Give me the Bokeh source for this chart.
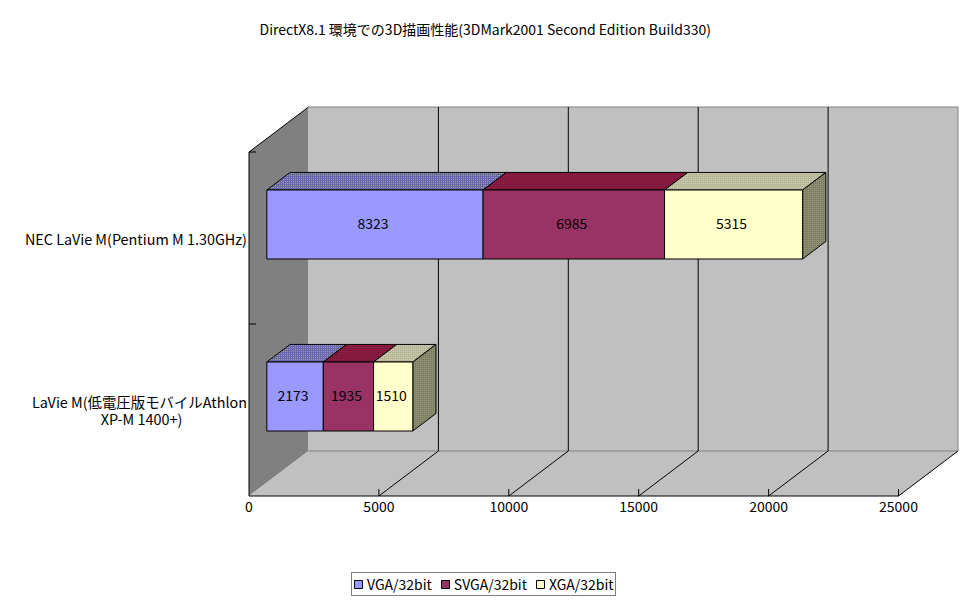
from bokeh.plotting import figure
from bokeh.embed import file_html
from bokeh.resources import INLINE
from bokeh.models import FixedTicker, Legend, LegendItem, Range1d
from bokeh.core.properties import value

title = "DirectX8.1 環境での3D描画性能(3DMark2001 Second Edition Build330)"
categories = ["LaVie M(低電圧版モバイルAthlon\nXP-M 1400+)\u3000\u3000\u3000\u3000\u2002", "NEC LaVie M(Pentium M 1.30GHz)"]
series = ["VGA/32bit", "SVGA/32bit", "XGA/32bit"]
vga = [2173, 8323]
svga = [1935, 6985]
xga = [1510, 5315]
x_ticks = [0, 5000, 10000, 15000, 20000, 25000]
front_colors = ["#9999FF", "#993366", "#FFFFCC"]
top_colors = ["#6868A8", "#7A1A40", "#B8B898"]
dot_colors = ["#B0B090", "#B02030", "#D8D8C0"]
side_color = "#8C8C70"

PX_PER_UNIT = 649.5 / 25000
DX = 59.5 / PX_PER_UNIT
CAT_PX = 172.0
DY = 45 / CAT_PX
FONT = "Noto Sans CJK JP"
W, H, TOP = 964, 600, 54
X0 = -248.5 / PX_PER_UNIT
Y0 = -(H - 495.5) / CAT_PX

p = figure(width=W, height=H, output_backend="svg", toolbar_location=None,
           x_range=Range1d(X0, X0 + W / PX_PER_UNIT), y_range=Range1d(Y0, Y0 + (H - TOP) / CAT_PX),
           frame_width=W, frame_height=H - TOP, min_border=0, outline_line_color=None,
           background_fill_color="white")
p.xgrid.visible = False
p.ygrid.visible = False

p.title.text = title
p.title.align = "left"
p.title.offset = 259
p.title.standoff = 32
p.title.text_font = FONT
p.title.text_font_size = "14px"
p.title.text_font_style = "normal"
p.title.text_color = "black"

# Chart box
p.patch([0, DX, DX, 0], [0, DY, 2 + DY, 2], color="#808080", line_color=None)
p.patch([DX, 25000 + DX, 25000 + DX, DX], [DY, DY, 2 + DY, 2 + DY], color="#C0C0C0", line_color=None)
p.patch([0, 25000, 25000 + DX, DX], [0, 0, DY, DY], color="#C0C0C0", line_color=None)
p.line([DX, 25000 + DX, 25000 + DX], [2 + DY, 2 + DY, DY], color="#808080", line_width=1)
p.line([DX, 25000 + DX], [DY, DY], color="#808080", line_width=1)

gx = x_ticks[1:-1]
p.segment([t + DX for t in gx], [DY] * len(gx), [t + DX for t in gx], [2 + DY] * len(gx), color="black", line_width=1)
gd = x_ticks[1:]
p.segment(gd, [0] * len(gd), [t + DX for t in gd], [DY] * len(gd), color="black", line_width=1)
p.segment(gd, [0] * len(gd), gd, [7 / CAT_PX] * len(gd), color="black", line_width=1)
p.line([0, 25000], [0, 0], color="black", line_width=1)
p.line([0, 0, DX], [0, 2, 2 + DY], color="black", line_width=1)
p.segment([0, 0], [1, 2], [7 / PX_PER_UNIT] * 2, [1, 2], color="black", line_width=1)

# Bars
BAR_H = 69 / CAT_PX
D0 = 0.30
BD = 0.39
x0 = D0 * DX
y_front = [c + 0.5 + D0 * DY for c in range(len(categories))]
vals = [vga, svga, xga]
handles = []
for c, yc in enumerate(y_front):
    left = x0
    yt = yc + BAR_H / 2
    yb = yc - BAR_H / 2
    for s, v in enumerate(vals):
        right = left + v[c]
        p.patch([left, right, right + BD * DX, left + BD * DX],
                [yt, yt, yt + BD * DY, yt + BD * DY],
                fill_color=top_colors[s], line_color="black", line_width=1,
                hatch_pattern="dot", hatch_color=dot_colors[s], hatch_scale=2, hatch_weight=1)
        left = right
    p.patch([left, left + BD * DX, left + BD * DX, left],
            [yb, yb + BD * DY, yt + BD * DY, yt],
            fill_color=side_color, line_color="black", line_width=1,
            hatch_pattern="dot", hatch_color="#6A6A50", hatch_scale=2, hatch_weight=1)

lefts = [x0, x0]
for s, v in enumerate(vals):
    rights = [a + b for a, b in zip(lefts, v)]
    r = p.hbar(y=y_front, left=lefts, right=rights, height=BAR_H,
               fill_color=front_colors[s], line_color="black", line_width=1)
    handles.append(LegendItem(label=series[s], renderers=[r]))
    p.text([(a + b) / 2 for a, b in zip(lefts, rights)], y_front, text=[str(n) for n in v],
           text_align="center", text_baseline="middle", text_font=value(FONT),
           text_font_size="14px", text_color="black", x_offset=-2, y_offset=-1)
    lefts = rights

# Axes
ax = p.xaxis[0]
ax.fixed_location = 0
ax.ticker = FixedTicker(ticks=x_ticks)
ax.major_tick_line_color = None
ax.minor_tick_line_color = None
ax.major_tick_out = 0
ax.axis_line_color = None
ax.major_label_text_font = FONT
ax.major_label_text_font_size = "14px"
ax.major_label_text_color = "black"
ax.major_label_standoff = 5
ay = p.yaxis[0]
ay.fixed_location = 0
ay.ticker = FixedTicker(ticks=[0.5, 1.5])
ay.major_label_overrides = {0.5: categories[0], 1.5: categories[1]}
ay.major_tick_line_color = None
ay.minor_tick_line_color = None
ay.major_tick_out = 0
ay.axis_line_color = None
ay.major_label_text_font = FONT
ay.major_label_text_font_size = "14.4px"
ay.major_label_text_color = "black"
ay.major_label_text_line_height = 0.82
ay.major_label_standoff = 2

legend = Legend(items=handles, orientation="horizontal", location=(351, 4),
                border_line_color="black", border_line_width=1, background_fill_color="white",
                label_text_font=FONT, label_text_font_size="14px", label_text_color="black",
                glyph_width=10, glyph_height=10, label_height=14,
                spacing=8, padding=1, margin=0, label_standoff=4)
p.add_layout(legend, "center")

open("out.html", "w").write(file_html(p, INLINE))
